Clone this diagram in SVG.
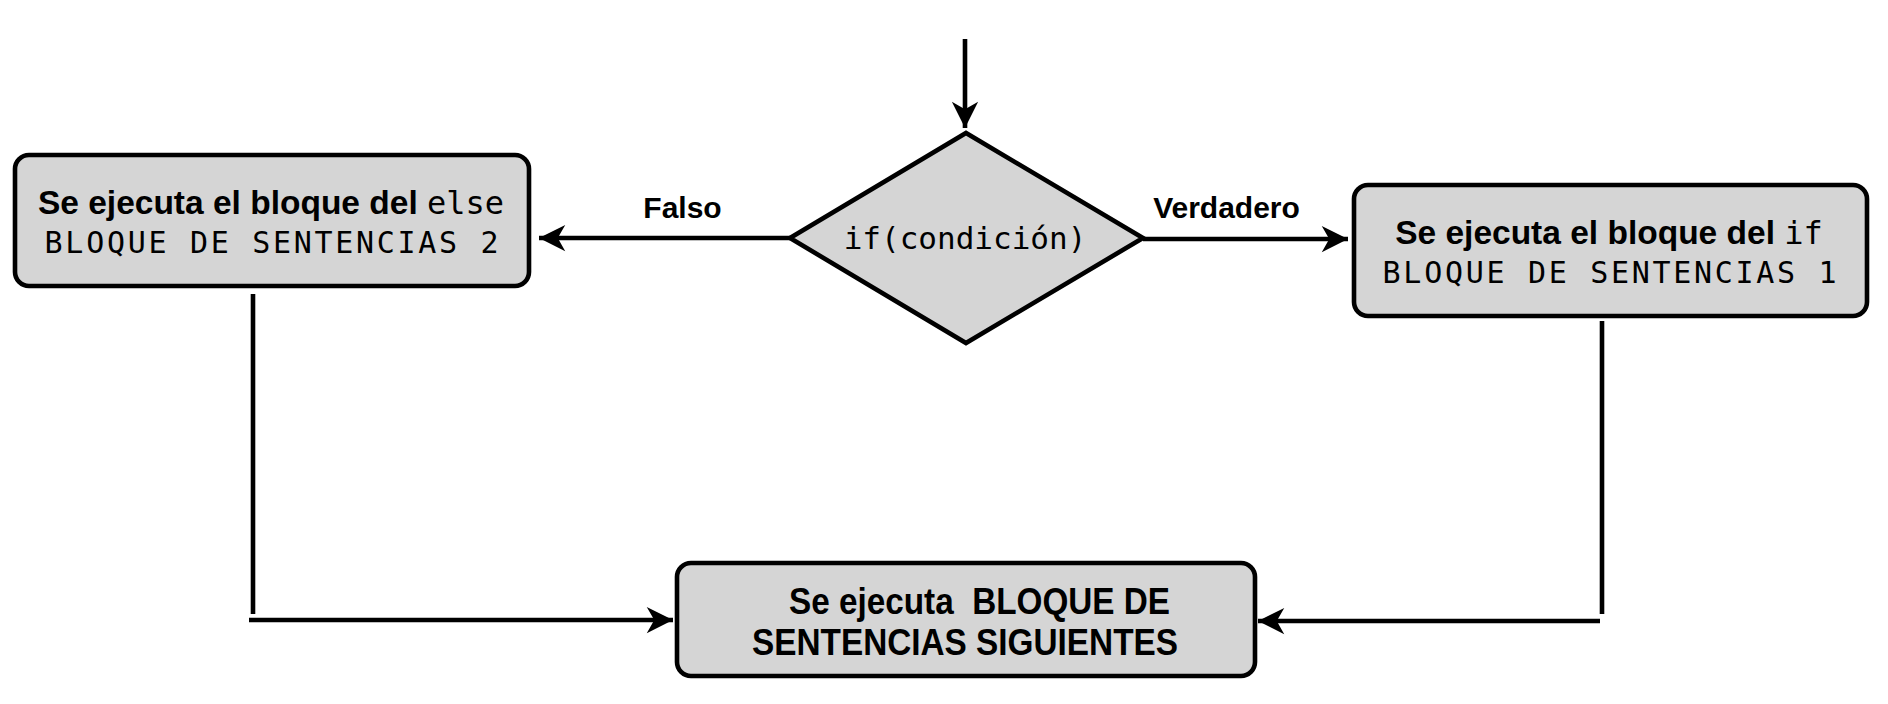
<svg xmlns="http://www.w3.org/2000/svg" width="1888" height="704" viewBox="0 0 1888 704">
<style>
.box{fill:#d5d5d5;stroke:#000;stroke-width:4.6}
.ln{fill:none;stroke:#000;stroke-width:4.6;stroke-linecap:butt}
.sans{font-family:"Liberation Sans",Arial,sans-serif;font-weight:bold;fill:#000}
.mono{font-family:"DejaVu Sans Mono","Liberation Mono",monospace;font-weight:normal;fill:#000}
.pre{white-space:pre}
</style>
<defs>
<marker id="ah" markerUnits="userSpaceOnUse" markerWidth="30" markerHeight="30" viewBox="-22 -12 24 24" refX="0" refY="0" orient="auto">
<path d="M0,0 L-21,-10.5 L-15,0 L-21,10.5 Z" fill="#000"/>
</marker>
</defs>
<g id="connectors">
<line class="ln" x1="965" y1="39" x2="965" y2="128" marker-end="url(#ah)"/>
<line class="ln" x1="790" y1="238" x2="539" y2="238" marker-end="url(#ah)"/>
<line class="ln" x1="1143" y1="239" x2="1348" y2="239" marker-end="url(#ah)"/>
<line class="ln" x1="253" y1="294" x2="253" y2="614"/>
<line class="ln" x1="249" y1="620" x2="673" y2="620" marker-end="url(#ah)"/>
<line class="ln" x1="1602" y1="321" x2="1602" y2="614"/>
<line class="ln" x1="1600" y1="621" x2="1258" y2="621" marker-end="url(#ah)"/>
<text class="sans" x="682.5" y="218" font-size="30" text-anchor="middle">Falso</text>
<text class="sans" x="1226.5" y="218" font-size="30" text-anchor="middle">Verdadero</text>
</g>
<g id="decision">
<polygon class="box" points="790,238 966,133 1143,238 966,343"/>
<text class="mono" x="965" y="249" font-size="31" text-anchor="middle">if(condición)</text>
</g>
<g id="else-block">
<rect class="box" x="15" y="155" width="514" height="131" rx="14"/>
<text class="sans" x="271" y="214" font-size="33.5" text-anchor="middle">Se ejecuta el bloque del <tspan class="mono" font-size="32">else</tspan></text>
<text class="mono" x="273" y="253" font-size="30" letter-spacing="2.7" text-anchor="middle">BLOQUE DE SENTENCIAS 2</text>
</g>
<g id="if-block">
<rect class="box" x="1354" y="185" width="513" height="131" rx="14"/>
<text class="sans" x="1609" y="244" font-size="33.5" text-anchor="middle">Se ejecuta el bloque del <tspan class="mono" font-size="32">if</tspan></text>
<text class="mono" x="1611" y="283" font-size="30" letter-spacing="2.7" text-anchor="middle">BLOQUE DE SENTENCIAS 1</text>
</g>
<g id="next-block">
<rect class="box" x="677" y="563" width="578" height="113" rx="14"/>
<text class="sans pre" x="979.5" y="614" font-size="36" text-anchor="middle" textLength="381" lengthAdjust="spacingAndGlyphs">Se ejecuta  BLOQUE DE</text>
<text class="sans" x="965" y="655" font-size="36" text-anchor="middle" textLength="426" lengthAdjust="spacingAndGlyphs">SENTENCIAS SIGUIENTES</text>
</g>
</svg>
